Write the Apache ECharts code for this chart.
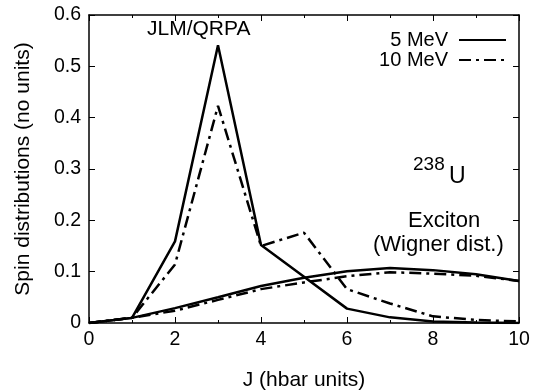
<!DOCTYPE html>
<html>
<head>
<meta charset="utf-8">
<script src="https://cdn.jsdelivr.net/npm/echarts@6/dist/echarts.min.js"></script>
<style>
  html, body { margin: 0; padding: 0; background: #fff; }
  #chart { width: 542px; height: 390px; }
</style>
</head>
<body>
<div id="chart"></div>
<script>
// spin values J (hbar units)
const spins = [0, 1, 2, 3, 4, 5, 6, 7, 8, 9, 10];

// JLM/QRPA spin distributions
const jlm5MeV = [0, 0.010, 0.159, 0.541, 0.152, 0.090, 0.028, 0.011, 0.003, 0.001, 0.000];
const jlm10MeV = [0, 0.010, 0.114, 0.423, 0.150, 0.176, 0.066, 0.038, 0.013, 0.006, 0.003];

// Exciton (Wigner distribution)
const exc5MeV = [0, 0.010, 0.029, 0.050, 0.072, 0.088, 0.101, 0.107, 0.103, 0.095, 0.082];
const exc10MeV = [0, 0.010, 0.024, 0.045, 0.066, 0.079, 0.091, 0.099, 0.096, 0.092, 0.082];

const font = '"Liberation Sans", Arial, sans-serif';
const dashDot = [12, 5, 3, 5];

const chart = echarts.init(document.getElementById('chart'));

// pair spins with values
const toPoints = (vals) => spins.map((j, i) => [j, vals[i]]);

const axisCommon = {
  type: 'value',
  axisLine: { show: true, onZero: false, lineStyle: { color: '#000', width: 1.5 } },
  axisTick: { show: true, inside: true, length: 6, lineStyle: { color: '#000' } },
  splitLine: { show: false },
};

const option = {
  animation: false,
  backgroundColor: '#fff',
  textStyle: { fontFamily: font, color: '#000' },
  grid: { left: 89, right: 23, top: 15, bottom: 67, containLabel: false, outerBoundsMode: 'none' },
  legend: {
    orient: 'vertical',
    right: 35,
    top: 30,
    padding: 0,
    align: 'right',
    itemWidth: 47,
    itemHeight: 14,
    itemGap: 0,
    itemStyle: { opacity: 0 },
    textStyle: { fontFamily: font, fontSize: 20, color: '#000', padding: [0, 6, 0, 0] },
    data: ['5 MeV', '10 MeV'],
  },
  xAxis: [
    {
      ...axisCommon,
      min: 0, max: 10, interval: 2,
      name: 'J (hbar units)',
      nameLocation: 'middle',
      nameGap: 47,
      nameTextStyle: { fontFamily: font, fontSize: 21, color: '#000' },
      axisLabel: { fontFamily: font, fontSize: 19.5, color: '#000', margin: 7 },
      minorTick: { show: true, splitNumber: 2, length: 3, lineStyle: { color: '#000' } },
    },
    {
      ...axisCommon,
      position: 'top',
      min: 0, max: 10, interval: 2,
      axisLabel: { show: false },
      minorTick: { show: true, splitNumber: 2, length: 3, lineStyle: { color: '#000' } },
    },
  ],
  yAxis: [
    {
      ...axisCommon,
      min: 0, max: 0.6, interval: 0.1,
      name: 'Spin distributions (no units)',
      nameLocation: 'middle',
      nameGap: 55,
      nameTextStyle: { fontFamily: font, fontSize: 21, color: '#000' },
      axisLabel: { fontFamily: font, fontSize: 19.5, color: '#000', margin: 8 },
    },
    {
      ...axisCommon,
      position: 'right',
      min: 0, max: 0.6, interval: 0.1,
      axisLabel: { show: false },
    },
  ],
  series: [
    {
      name: '5 MeV', type: 'line', symbol: 'none',
      data: toPoints(jlm5MeV),
      lineStyle: { color: '#000', width: 2.5 },
      itemStyle: { color: '#000' },
    },
    {
      name: '10 MeV', type: 'line', symbol: 'none',
      data: toPoints(jlm10MeV),
      lineStyle: { color: '#000', width: 2.5, type: dashDot },
      itemStyle: { color: '#000' },
    },
    {
      name: '5 MeV', type: 'line', symbol: 'none',
      data: toPoints(exc5MeV),
      lineStyle: { color: '#000', width: 2.5 },
      itemStyle: { color: '#000' },
    },
    {
      name: '10 MeV', type: 'line', symbol: 'none',
      data: toPoints(exc10MeV),
      lineStyle: { color: '#000', width: 2.5, type: dashDot },
      itemStyle: { color: '#000' },
    },
  ],
  graphic: [
    {
      type: 'text', left: 147, top: 19,
      style: { text: 'JLM/QRPA', font: '21px ' + font, fill: '#000' },
    },
    {
      type: 'text', left: 413, top: 155,
      style: { text: '238', font: '19px ' + font, fill: '#000' },
    },
    {
      type: 'text', left: 449, top: 165,
      style: { text: 'U', font: '23px ' + font, fill: '#000' },
    },
    {
      type: 'text', left: 408, top: 210,
      style: { text: 'Exciton', font: '22px ' + font, fill: '#000' },
    },
    {
      type: 'text', left: 373, top: 234,
      style: { text: '(Wigner dist.)', font: '22px ' + font, fill: '#000' },
    },
  ],
};

chart.setOption(option);
</script>
</body>
</html>
